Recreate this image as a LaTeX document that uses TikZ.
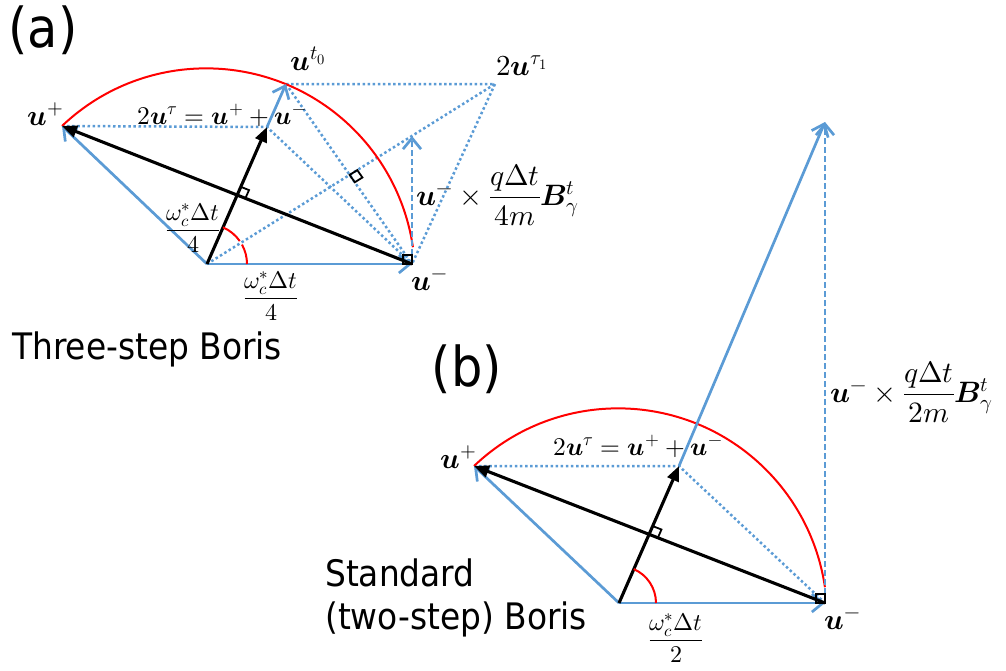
\documentclass[tikz,border=0pt]{standalone}
\usepackage{amsmath}
\usepackage{unicode-math}
\setmathfont{Latin Modern Math}
\newfontfamily\labelfont{DejaVu Sans Condensed}
\usetikzlibrary{arrows.meta,calc}
\definecolor{vecblue}{RGB}{91,155,213}

\begin{document}
\begin{tikzpicture}[x=1pt,y=-1pt,
  vecline/.style={draw=vecblue,line width=2.7pt,-{Straight Barb[length=11pt,width=18pt]}},
  dashvec/.style={vecline,dash pattern=on 6pt off 3pt},
  guideline/.style={draw=vecblue,line width=2.5pt,dash pattern=on 2.5pt off 2.6pt},
  rotvec/.style={draw=black,line width=3.1pt,-{Triangle[length=15pt,width=12pt]}},
  rightmark/.style={draw=black,line width=1.8pt},
  swingarc/.style={draw=red,line width=2pt},
  veclabel/.style={font=\fontsize{29}{32}\selectfont,inner sep=0pt},
  eqlabel/.style={font=\fontsize{25.5}{28}\selectfont,inner sep=0pt},
  anglelabel/.style={font=\fontsize{24}{28}\selectfont,inner sep=0pt},
  fraclabel/.style={font=\fontsize{29.5}{32}\selectfont,inner sep=0pt},
  panellabel/.style={font=\labelfont\fontsize{55}{60}\selectfont,inner sep=0pt},
  namelabel/.style={font=\labelfont\fontsize{36.5}{43}\selectfont,align=left,inner sep=0pt}]
\useasboundingbox (0,0) rectangle (1006,670);

\coordinate (Oa) at (207,264);
\coordinate (uma) at (412,264);
\coordinate (upa) at (62,126);
\coordinate (taua) at (267,127);
\coordinate (t0) at (286,84);
\coordinate (tau1) at (495,84);
\coordinate (crossa) at (412,136);

\draw[guideline] (upa) -- (taua) -- (uma);
\draw[guideline] (t0) -- (tau1) -- (uma);
\draw[guideline] (t0) -- (uma);
\draw[guideline] (Oa) -- (tau1);
\draw[swingarc] (upa) arc[start angle=-133.6,end angle=-8.3,radius=209];
\draw[vecline] (Oa) -- (uma);
\draw[vecline] (Oa) -- (upa);
\draw[vecline] (taua) -- (t0);
\draw[dashvec] (uma) -- (crossa);
\draw[rotvec] (uma) -- (upa);
\draw[rotvec] (Oa) -- (taua);
\draw[swingarc] ($(Oa)+(40,0)$) arc[start angle=0,end angle=-29,radius=40];
\draw[swingarc] ($(Oa)+(-35:40)$) arc[start angle=-35,end angle=-66.4,radius=40];

\coordinate (Pa) at ($(upa)!0.5!(uma)$);
\coordinate (Pa1) at ($(Pa)!9pt!(taua)$);
\coordinate (Pa2) at ($(Pa)!9pt!(uma)$);
\draw[rightmark] (Pa1) -- ($(Pa1)+(Pa2)-(Pa)$) -- (Pa2);
\coordinate (Qa) at (intersection of t0--uma and Oa--tau1);
\coordinate (Qa1) at ($(Qa)!9pt!(uma)$);
\coordinate (Qa2) at ($(Qa)!9pt!(tau1)$);
\draw[rightmark] (Qa) -- (Qa1) -- ($(Qa1)+(Qa2)-(Qa)$) -- (Qa2) -- cycle;
\draw[rightmark] ($(uma)+(-9,-9)$) rectangle (uma);

\node[panellabel] (panela) at (43,30) {(a)};
\node[veclabel,anchor=base] (lupa) at (46,125) {$\symbfit{u}^{+}$};
\node[veclabel,anchor=base] (luma) at (430,290) {$\symbfit{u}^{-}$};
\node[veclabel,anchor=base] (lt0) at (308,70) {$\symbfit{u}^{t_0}$};
\node[veclabel,anchor=base] (ltau1) at (522,75) {$2\symbfit{u}^{\tau_1}$};
\node[eqlabel,anchor=base] (leqa) at (222,124) {$2\symbfit{u}^{\tau}=\symbfit{u}^{+}+\symbfit{u}^{-}$};
\node[fraclabel,anchor=west] (lcrossa) at (416,195) {$\symbfit{u}^{-}\times\dfrac{q\Delta t}{4m}\symbfit{B}_{\gamma}^{t}$};
\node[anglelabel] (langa1) at (193,228) {$\dfrac{\omega_c^{*}\Delta t}{4}$};
\node[anglelabel] (langa2) at (271,296) {$\dfrac{\omega_c^{*}\Delta t}{4}$};
\node[namelabel,anchor=base west] (namea) at (12,359) {Three-step Boris};

\coordinate (Ob) at (619,603);
\coordinate (umb) at (825,603);
\coordinate (upb) at (474,466);
\coordinate (taub) at (679,466);
\coordinate (topb) at (825,122);

\draw[guideline] (upb) -- (taub) -- (umb);
\draw[swingarc] (upb) arc[start angle=-133.6,end angle=-8.3,radius=209];
\draw[vecline] (Ob) -- (umb);
\draw[vecline] (Ob) -- (upb);
\draw[vecline] (taub) -- (topb);
\draw[dashvec] (umb) -- (topb);
\draw[rotvec] (umb) -- (upb);
\draw[rotvec] (Ob) -- (taub);
\draw[swingarc] ($(Ob)+(37,0)$) arc[start angle=0,end angle=-66.4,radius=37];

\coordinate (Pb) at ($(upb)!0.5!(umb)$);
\coordinate (Pb1) at ($(Pb)!9pt!(taub)$);
\coordinate (Pb2) at ($(Pb)!9pt!(umb)$);
\draw[rightmark] (Pb1) -- ($(Pb1)+(Pb2)-(Pb)$) -- (Pb2);
\draw[rightmark] ($(umb)+(-9,-9)$) rectangle (umb);

\node[panellabel] (panelb) at (467,369) {(b)};
\node[veclabel,anchor=base] (lupb) at (459,468) {$\symbfit{u}^{+}$};
\node[veclabel,anchor=base] (lumb) at (843,629) {$\symbfit{u}^{-}$};
\node[eqlabel,anchor=base] (leqb) at (638,455) {$2\symbfit{u}^{\tau}=\symbfit{u}^{+}+\symbfit{u}^{-}$};
\node[fraclabel,anchor=west] (lcrossb) at (830,392) {$\symbfit{u}^{-}\times\dfrac{q\Delta t}{2m}\symbfit{B}_{\gamma}^{t}$};
\node[anglelabel] (langb) at (676,638) {$\dfrac{\omega_c^{*}\Delta t}{2}$};
\node[namelabel,anchor=west] (nameb) at (325,598) {Standard\\(two-step) Boris};
\end{tikzpicture}
\end{document}
